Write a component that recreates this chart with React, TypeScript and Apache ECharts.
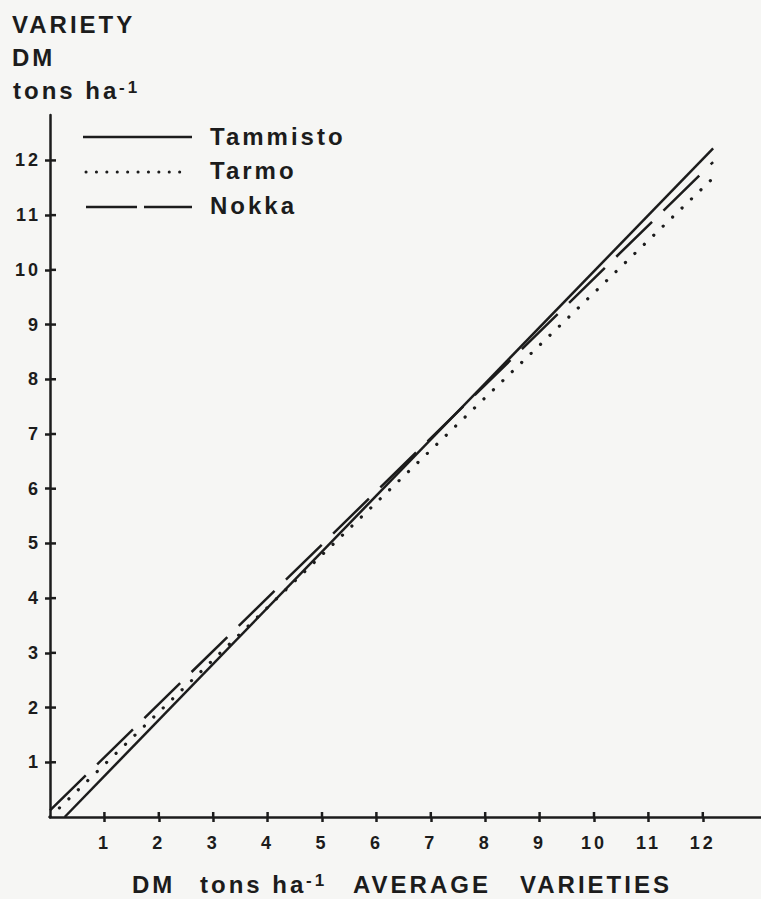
import React, { useEffect, useRef } from "react";
import * as echarts from "echarts";

const tickValues = [1, 2, 3, 4, 5, 6, 7, 8, 9, 10, 11, 12];
const seriesNames = ["Tammisto", "Tarmo", "Nokka"];
const tammisto = [[0.27, 0], [12.19, 12.22]];
const tarmo = [[0, 0], [12.15, 11.64]];
const nokka = [[0, 0.12], [12.19, 11.97]];

const INK = "#1c1c1c";
const FONT = "Liberation Sans";

export default function App() {
  const ref = useRef<HTMLDivElement>(null);
  useEffect(() => {
    if (!ref.current) return;
    const chart = echarts.init(ref.current, undefined, { renderer: "svg" });
    const big = { fontFamily: FONT, fontWeight: "bold", fontSize: 24, fill: INK } as any;
    const sup = { fontFamily: FONT, fontWeight: "bold", fontSize: 17, fill: INK } as any;
    const legendY = [137, 172, 207];
    const legendText = [136, 170, 205];
    const tickLabel = {
      color: INK,
      fontFamily: FONT,
      fontWeight: "bold",
      fontSize: 18,
      customValues: tickValues,
    };
    const tickOut = {
      show: true,
      length: 5,
      inside: false,
      lineStyle: { color: INK, width: 2.5 },
      customValues: tickValues,
    };
    const graphic: any[] = [
      { type: "text", x: 12, y: 24, style: { ...big, text: "VARIETY", verticalAlign: "middle" } },
      { type: "text", x: 12, y: 57, style: { ...big, text: "DM", verticalAlign: "middle" } },
      { type: "text", x: 13, y: 90, style: { ...big, text: "tons ha", verticalAlign: "middle" } },
      { type: "text", x: 119, y: 87, style: { ...sup, text: "-1", verticalAlign: "middle" } },
      { type: "line", shape: { x1: 83, y1: legendY[0], x2: 192, y2: legendY[0] }, style: { stroke: INK, lineWidth: 2.5 } },
      { type: "line", shape: { x1: 86, y1: legendY[1], x2: 190, y2: legendY[1] }, style: { stroke: INK, lineWidth: 3, lineDash: [0.1, 10.3], lineCap: "round" } },
      { type: "line", shape: { x1: 86, y1: legendY[2], x2: 192, y2: legendY[2] }, style: { stroke: INK, lineWidth: 2.5, lineDash: [51, 7] } },
      { type: "text", x: 210, y: legendText[0], style: { ...big, text: seriesNames[0], verticalAlign: "middle" } },
      { type: "text", x: 210, y: legendText[1], style: { ...big, text: seriesNames[1], verticalAlign: "middle" } },
      { type: "text", x: 210, y: legendText[2], style: { ...big, text: seriesNames[2], verticalAlign: "middle" } },
      { type: "text", x: 132, y: 884, style: { ...big, text: "DM", verticalAlign: "middle" } },
      { type: "text", x: 200, y: 884, style: { ...big, text: "tons ha", verticalAlign: "middle" } },
      { type: "text", x: 306, y: 880, style: { ...sup, text: "-1", verticalAlign: "middle" } },
      { type: "text", x: 353, y: 884, style: { ...big, text: "AVERAGE", verticalAlign: "middle" } },
      { type: "text", x: 520, y: 884, style: { ...big, text: "VARIETIES", verticalAlign: "middle" } },
    ];
    const option: any = {
      animation: false,
      backgroundColor: "#f6f6f4",
      grid: { left: 50, right: 0, top: 115, bottom: 82, containLabel: false },
      xAxis: {
        type: "value",
        min: 0,
        max: 13.07,
        interval: 1,
        splitLine: { show: false },
        axisLine: { show: true, lineStyle: { color: INK, width: 2.5 } },
        axisTick: tickOut,
        axisLabel: { ...tickLabel, margin: 17 },
      },
      yAxis: {
        type: "value",
        min: 0,
        max: 12.83,
        interval: 1,
        splitLine: { show: false },
        axisLine: { show: true, lineStyle: { color: INK, width: 2.5 } },
        axisTick: tickOut,
        axisLabel: { ...tickLabel, margin: 9 },
      },
      series: [
        {
          name: seriesNames[0],
          type: "line",
          data: tammisto,
          symbol: "none",
          lineStyle: { color: INK, width: 2.5, type: "solid" },
        },
        {
          name: seriesNames[1],
          type: "line",
          data: tarmo,
          symbol: "none",
          lineStyle: { color: INK, width: 3.2, type: [0.1, 13], cap: "round" },
        },
        {
          name: seriesNames[2],
          type: "line",
          data: nokka,
          symbol: "none",
          lineStyle: { color: INK, width: 2.5, type: [50, 16] },
        },
      ],
      graphic,
    };
    chart.setOption(option);
    // inner halves of the crossing tick marks, placed through the chart's own scales
    const inner: any[] = [];
    tickValues.forEach((v) => {
      const px = chart.convertToPixel({ gridIndex: 0 }, [v, 0]) as number[];
      const py = chart.convertToPixel({ gridIndex: 0 }, [0, v]) as number[];
      if (px && py) {
        inner.push({
          type: "line",
          shape: { x1: px[0], y1: px[1], x2: px[0], y2: px[1] - 5 },
          style: { stroke: INK, lineWidth: 2.5 },
        });
        inner.push({
          type: "line",
          shape: { x1: py[0], y1: py[1], x2: py[0] + 6, y2: py[1] },
          style: { stroke: INK, lineWidth: 2.5 },
        });
      }
    });
    chart.setOption({ graphic: graphic.concat(inner) }, { replaceMerge: ["graphic"] } as any);
    return () => chart.dispose();
  }, []);
  return (
    <div
      ref={ref}
      style={{
        position: "fixed",
        left: 0,
        top: 0,
        width: 761,
        height: 899,
        letterSpacing: "3px",
        background: "#f6f6f4",
      }}
    />
  );
}
